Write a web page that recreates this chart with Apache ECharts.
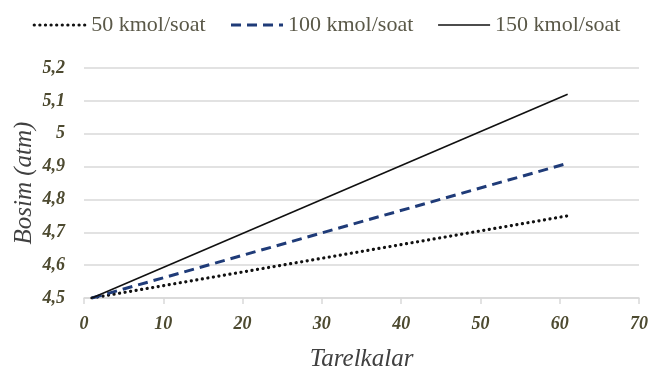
<!DOCTYPE html>
<html><head><meta charset="utf-8">
<script src="https://cdn.jsdelivr.net/npm/echarts@6/dist/echarts.min.js"></script>
<style>html,body{margin:0;padding:0;background:#fff}#c{width:653px;height:367px}</style>
</head><body><div id="c"></div>
<script>
const seriesNames = ['50 kmol/soat', '100 kmol/soat', '150 kmol/soat'];
const trays = [1, 61];
const s50 = [4.5, 4.75];
const s100 = [4.5, 4.91];
const s150 = [4.5, 5.12];
const xTicks = [0, 10, 20, 30, 40, 50, 60, 70];
const yTicks = [4.5, 4.6, 4.7, 4.8, 4.9, 5.0, 5.1, 5.2];

const pair = (vals) => trays.map((t, i) => [t, vals[i]]);
const font = 'Liberation Serif';
const legendWidths = [3.2, 3, 1.6];
const chart = echarts.init(document.getElementById('c'));
chart.setOption({
  animation: false,
  legend: {
    top: 9, left: 'center', itemWidth: 52, itemHeight: 12, itemGap: 24,
    textStyle: { fontFamily: font, fontSize: 22, color: '#5a5848' },
    itemStyle: { opacity: 0 },
    data: seriesNames.map((n, i) => ({ name: n, lineStyle: { width: legendWidths[i] } }))
  },
  grid: { left: 84, right: 14, top: 68, bottom: 69, outerBoundsMode: 'none', containLabel: false },
  xAxis: {
    type: 'value', min: xTicks[0], max: xTicks[xTicks.length - 1], interval: 10,
    name: 'Tarelkalar', nameLocation: 'middle', nameGap: 49,
    nameTextStyle: { fontFamily: font, fontSize: 25, fontStyle: 'italic', color: '#404040' },
    axisLine: { lineStyle: { color: '#d9d9d9', width: 1.5 } },
    axisTick: { show: true, length: 6, lineStyle: { color: '#d9d9d9', width: 1.5 } },
    splitLine: { show: false },
    axisLabel: { fontFamily: font, fontSize: 18, fontStyle: 'italic', fontWeight: 'bold', color: '#4d4a30', margin: 17 }
  },
  yAxis: {
    type: 'value', min: yTicks[0], max: yTicks[yTicks.length - 1], interval: 0.1,
    name: 'Bosim (atm)', nameLocation: 'middle', nameGap: 47, nameMoveOverlap: false,
    nameTextStyle: { fontFamily: font, fontSize: 25, fontStyle: 'italic', color: '#404040' },
    axisLine: { show: false }, axisTick: { show: false },
    splitLine: { lineStyle: { color: '#d9d9d9', width: 1.5 } },
    axisLabel: {
      fontFamily: font, fontSize: 18, fontStyle: 'italic', fontWeight: 'bold', color: '#4d4a30', margin: 19,
      formatter: v => String(Math.round(v * 10) / 10).replace('.', ',')
    }
  },
  series: [
    { name: seriesNames[0], type: 'line', showSymbol: false, symbol: 'none', data: pair(s50),
      lineStyle: { color: '#111', width: 3.2, type: [0.1, 5.5], cap: 'round' }, itemStyle: { color: '#111' } },
    { name: seriesNames[1], type: 'line', showSymbol: false, symbol: 'none', data: pair(s100),
      lineStyle: { color: '#1f3b78', width: 3, type: [10, 6] }, itemStyle: { color: '#1f3b78' } },
    { name: seriesNames[2], type: 'line', showSymbol: false, symbol: 'none', data: pair(s150),
      lineStyle: { color: '#111', width: 1.6, type: 'solid' }, itemStyle: { color: '#111' } }
  ]
});
</script></body></html>
